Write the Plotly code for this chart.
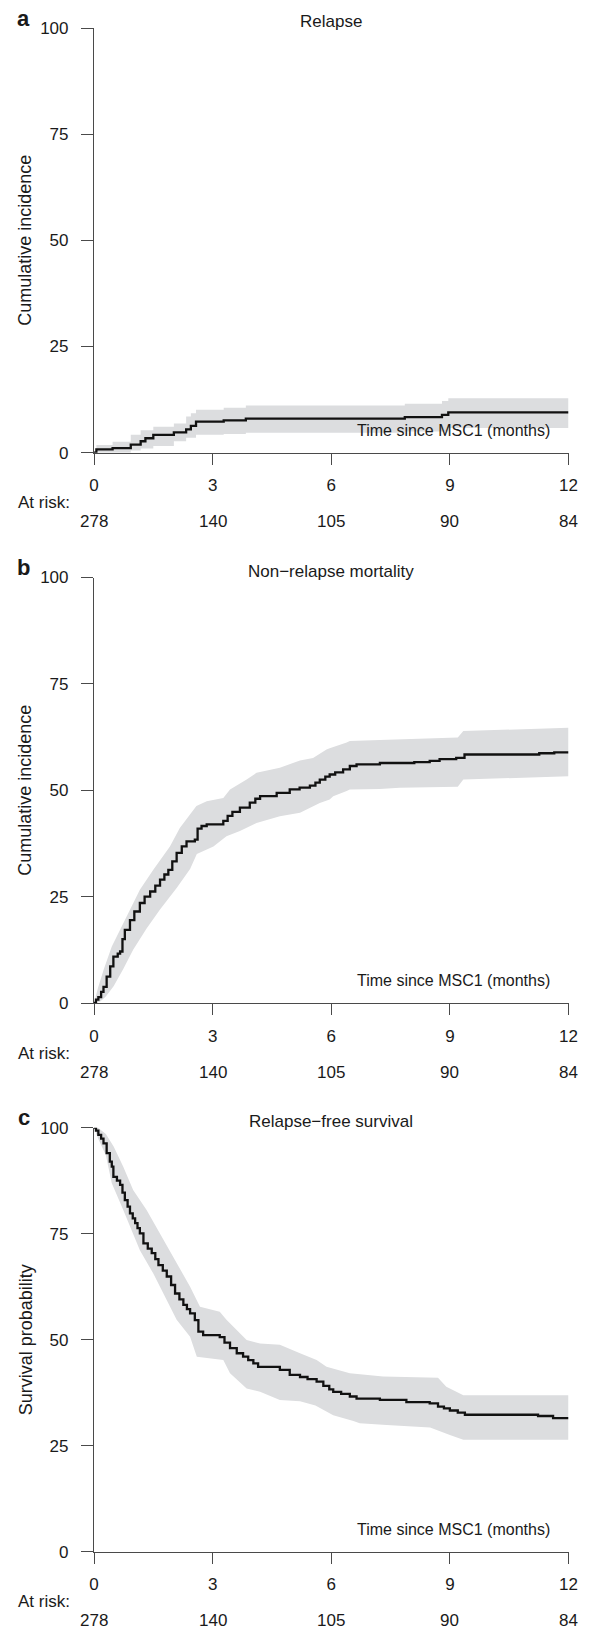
import plotly.graph_objects as go

# ---------------- data ----------------
month_ticks = [0, 3, 6, 9, 12]
at_risk = [278, 140, 105, 90, 84]
y_ticks = [0, 25, 50, 75, 100]
panel_letters = ["a", "b", "c"]
titles = ["Relapse", "Non\u2212relapse mortality", "Relapse\u2212free survival"]
y_titles = ["Cumulative incidence", "Cumulative incidence", "Survival probability"]
x_title = "Time since MSC1 (months)"

# Panel a: relapse cumulative incidence (%)
rel_x = [0, 0.06, 0.47, 0.93, 1.18, 1.30, 1.50, 2.02, 2.33, 2.45, 2.58, 3.28, 3.84, 7.86, 8.80, 8.96, 12]
rel_y = [0, 0.8, 1.1, 1.9, 2.7, 3.4, 4.2, 4.8, 5.5, 6.3, 7.3, 7.6, 8.0, 8.4, 8.9, 9.5, 9.5]
rel_up_x = [0, 0.06, 0.47, 0.93, 1.18, 1.50, 2.02, 2.33, 2.45, 2.58, 3.28, 3.84, 7.86, 8.80, 8.96, 12]
rel_up_y = [0, 1.8, 2.6, 4.2, 5.3, 6.1, 6.9, 8.5, 9.3, 10.1, 10.6, 11.1, 11.5, 12.2, 12.8, 12.8]
rel_lo_x = [0, 0.93, 1.18, 1.50, 2.02, 2.33, 2.58, 3.28, 3.84, 7.86, 8.96, 12]
rel_lo_y = [0, 0.5, 1.0, 1.6, 2.7, 3.5, 4.2, 4.4, 4.7, 5.0, 5.8, 5.8]

# Panel b: non-relapse mortality (%)
nrm_x = [0, 0.05, 0.11, 0.18, 0.24, 0.32, 0.41, 0.49, 0.60, 0.66, 0.72, 0.78, 0.91, 1.02, 1.16, 1.28,
         1.42, 1.55, 1.67, 1.78, 1.88, 1.98, 2.09, 2.22, 2.34, 2.55, 2.62, 2.72, 2.85, 3.27, 3.38, 3.50,
         3.69, 3.94, 4.08, 4.20, 4.62, 4.95, 5.20, 5.46, 5.60, 5.71, 5.85, 5.96, 6.10, 6.30, 6.47, 6.64,
         7.23, 8.10, 8.49, 8.74, 9.16, 9.37, 11.26, 11.64, 12]
nrm_y = [0, 0.8, 1.4, 2.6, 3.8, 6.2, 8.6, 10.9, 11.6, 12.1, 15.0, 17.2, 19.5, 21.5, 23.5, 25.0,
         26.2, 27.6, 29.0, 30.2, 31.3, 33.3, 35.3, 36.8, 38.0, 38.4, 41.0, 41.6, 42.0, 42.8, 44.0, 44.9,
         45.9, 47.1, 48.0, 48.6, 49.4, 50.2, 50.6, 51.1, 51.8, 52.5, 53.2, 53.7, 54.2, 54.9, 55.7, 56.1,
         56.4, 56.6, 56.9, 57.3, 57.6, 58.4, 58.7, 58.9, 58.9]
nrm_up_x = [0, 0.10, 0.25, 0.45, 0.66, 0.87, 1.16, 1.50, 1.92, 2.17, 2.59, 2.85, 3.27, 3.44, 3.86, 4.11,
            4.70, 5.21, 5.54, 5.88, 5.96, 6.39, 6.47, 7.23, 8.57, 9.20, 9.34, 11.70, 12]
nrm_up_y = [0, 3.5, 8.0, 13.3, 17.2, 21.1, 26.6, 31.3, 36.8, 41.1, 46.3, 47.4, 48.2, 50.2, 52.5, 54.1,
            55.3, 57.0, 57.6, 59.6, 59.9, 61.2, 61.6, 61.8, 62.3, 62.4, 63.9, 64.7, 64.7]
nrm_lo_x = [0, 0.15, 0.30, 0.50, 0.74, 0.99, 1.33, 1.67, 2.09, 2.43, 2.60, 3.02, 3.35, 3.69, 4.11, 4.70,
            5.21, 5.54, 5.71, 5.96, 6.05, 6.39, 6.47, 7.23, 7.73, 9.20, 9.34, 12]
nrm_lo_y = [0, 0.3, 1.5, 4.0, 8.0, 12.5, 17.5, 22.0, 27.0, 31.5, 35.0, 36.8, 39.2, 40.4, 42.3, 43.9,
            44.7, 46.3, 47.0, 47.8, 48.6, 49.8, 50.2, 50.3, 50.6, 50.8, 52.5, 53.3]

# Panel c: relapse-free survival (%)
rfs_x = [0, 0.05, 0.11, 0.18, 0.24, 0.32, 0.40, 0.45, 0.49, 0.58, 0.66, 0.72, 0.78, 0.85, 0.91, 0.98,
         1.04, 1.10, 1.16, 1.25, 1.36, 1.46, 1.55, 1.63, 1.74, 1.84, 1.95, 2.05, 2.16, 2.26, 2.35, 2.43,
         2.55, 2.64, 2.76, 3.18, 3.30, 3.44, 3.61, 3.77, 3.90, 4.03, 4.15, 4.70, 4.95, 5.21, 5.40, 5.63,
         5.80, 5.95, 6.05, 6.25, 6.47, 6.64, 7.23, 7.90, 8.49, 8.70, 8.85, 9.00, 9.20, 9.38, 11.23, 11.61, 12]
rfs_y = [100, 99.3, 98.3, 97.4, 96.3, 94.0, 92.0, 90.8, 88.4, 87.5, 86.5, 84.7, 82.9, 81.4, 79.8, 78.6,
         77.5, 76.3, 75.1, 72.7, 71.5, 70.4, 69.0, 67.6, 66.3, 64.9, 62.9, 60.9, 59.5, 58.2, 57.2, 56.2,
         54.6, 51.9, 51.1, 50.6, 49.3, 48.0, 46.8, 46.0, 45.2, 44.4, 43.6, 42.9, 41.7, 41.2, 40.7, 40.1,
         39.1, 38.3, 37.7, 37.2, 36.6, 36.1, 35.8, 35.3, 35.0, 34.2, 33.8, 33.3, 32.8, 32.3, 32.0, 31.5, 31.5]
rfs_up_x = [0, 0.10, 0.30, 0.50, 0.74, 0.99, 1.33, 1.67, 2.01, 2.43, 2.68, 3.18, 3.35, 3.86, 4.20, 4.70,
            5.21, 5.63, 5.88, 6.05, 6.47, 7.31, 8.70, 8.91, 9.34, 12]
rfs_up_y = [100, 100, 98.5, 95.5, 90.8, 85.3, 80.6, 75.1, 69.6, 62.5, 57.8, 56.6, 54.7, 49.9, 49.1, 48.8,
            46.8, 45.2, 43.6, 43.2, 42.1, 41.3, 41.0, 38.9, 36.9, 36.9]
rfs_lo_x = [0, 0.10, 0.30, 0.45, 0.74, 0.99, 1.16, 1.50, 1.84, 2.09, 2.43, 2.60, 3.27, 3.44, 3.86, 4.20,
            4.70, 5.21, 5.60, 6.05, 6.56, 6.72, 7.40, 8.24, 8.50, 9.00, 9.34, 12]
rfs_lo_y = [100, 97.5, 93.5, 86.9, 80.6, 75.1, 71.1, 65.6, 59.4, 54.7, 50.7, 46.0, 45.2, 42.1, 38.5, 37.7,
            35.8, 35.5, 34.5, 32.2, 30.8, 30.3, 29.9, 29.5, 29.3, 27.5, 26.4, 26.4]

panels = [
    (rel_x, rel_y, rel_up_x, rel_up_y, rel_lo_x, rel_lo_y),
    (nrm_x, nrm_y, nrm_up_x, nrm_up_y, nrm_lo_x, nrm_lo_y),
    (rfs_x, rfs_y, rfs_up_x, rfs_up_y, rfs_lo_x, rfs_lo_y),
]
band_shapes = ["hv", "linear", "linear"]

# ---------------- layout constants (page pixels) ----------------
PAGE_W, PAGE_H = 592, 1631
OFF = 8                      # default body margin of the html page
W, H = PAGE_W - OFF, PAGE_H - OFF
X_LEFT, X_RIGHT = 94, 568.5
TOPS = [28, 577.5, 1127.7]
BOTTOMS = [452.7, 1003, 1551.7]
FONT = "Liberation Sans, Arial, Helvetica, sans-serif"
TXT = "#1a1a1a"
AXC = "#4a4a4a"
BAND = "#dcdddf"
LINE = "#111111"


def px(x):
    return (x - OFF) / W


def py(y):
    return 1 - (y - OFF) / H


fig = go.Figure()
annotations = []
layout = {}

for i, (cx, cy, ux, uy, lx, ly) in enumerate(panels):
    n = "" if i == 0 else str(i + 1)
    xa, ya = "x" + n, "y" + n
    fig.add_trace(go.Scatter(x=lx, y=ly, mode="lines",
                             line=dict(width=0, shape=band_shapes[i], color=BAND),
                             xaxis=xa, yaxis=ya, showlegend=False, hoverinfo="skip"))
    fig.add_trace(go.Scatter(x=ux, y=uy, mode="lines",
                             line=dict(width=0, shape=band_shapes[i], color=BAND),
                             fill="tonexty", fillcolor=BAND,
                             xaxis=xa, yaxis=ya, showlegend=False, hoverinfo="skip"))
    fig.add_trace(go.Scatter(x=cx, y=cy, mode="lines", line=dict(width=2.3, shape="hv", color=LINE),
                             xaxis=xa, yaxis=ya, showlegend=False))

    top, bot = TOPS[i], BOTTOMS[i]
    layout["xaxis" + n] = dict(
        domain=[px(X_LEFT), px(X_RIGHT)], range=[0, 12], anchor=ya, automargin=False,
        tickvals=month_ticks, ticktext=[str(t) for t in month_ticks],
        ticks="outside", ticklen=11, tickwidth=1.2, tickcolor=AXC,
        showline=True, linecolor=AXC, linewidth=1.2, showgrid=False, zeroline=False,
        tickfont=dict(family=FONT, size=17, color=TXT), ticklabelstandoff=6,
    )
    layout["yaxis" + n] = dict(
        domain=[py(bot), py(top)], range=[0, 100], anchor=xa, automargin=False,
        tickvals=y_ticks, ticktext=[str(t) for t in y_ticks],
        ticks="outside", ticklen=12, tickwidth=1.2, tickcolor=AXC,
        showline=True, linecolor=AXC, linewidth=1.2, showgrid=False, zeroline=False,
        tickfont=dict(family=FONT, size=17, color=TXT), ticklabelstandoff=9,
    )

    annotations.append(dict(text="<b>%s</b>" % panel_letters[i], x=px(23.5), y=py(top - 10),
                            xref="paper", yref="paper", xanchor="center", yanchor="middle",
                            showarrow=False, font=dict(family=FONT, size=22, color=TXT)))
    annotations.append(dict(text=titles[i], x=px((X_LEFT + X_RIGHT) / 2), y=py(top - 6),
                            xref="paper", yref="paper", xanchor="center", yanchor="middle",
                            showarrow=False, font=dict(family=FONT, size=17, color=TXT)))
    annotations.append(dict(text=y_titles[i], x=px(25.5), y=py((top + bot) / 2), textangle=-90,
                            xref="paper", yref="paper", xanchor="center", yanchor="middle",
                            showarrow=False, font=dict(family=FONT, size=18, color=TXT)))
    annotations.append(dict(text=x_title, x=px(552), y=py(bot - 22),
                            xref="paper", yref="paper", xanchor="right", yanchor="middle",
                            showarrow=False, font=dict(family=FONT, size=16, color=TXT)))
    annotations.append(dict(text="At risk:", x=px(16), y=py(bot + 50),
                            xref="paper", yref="paper", xanchor="left", yanchor="middle",
                            showarrow=False, font=dict(family=FONT, size=17, color=TXT)))
    for t, r in zip(month_ticks, at_risk):
        annotations.append(dict(text=str(r), x=t, y=py(bot + 69),
                                xref=xa, yref="paper", xanchor="center", yanchor="middle",
                                showarrow=False, font=dict(family=FONT, size=17, color=TXT)))

fig.update_layout(
    width=W, height=H, margin=dict(l=0, r=0, t=0, b=0, autoexpand=False),
    paper_bgcolor="white", plot_bgcolor="white",
    annotations=annotations, **layout,
)

fig.write_html("out.html")
